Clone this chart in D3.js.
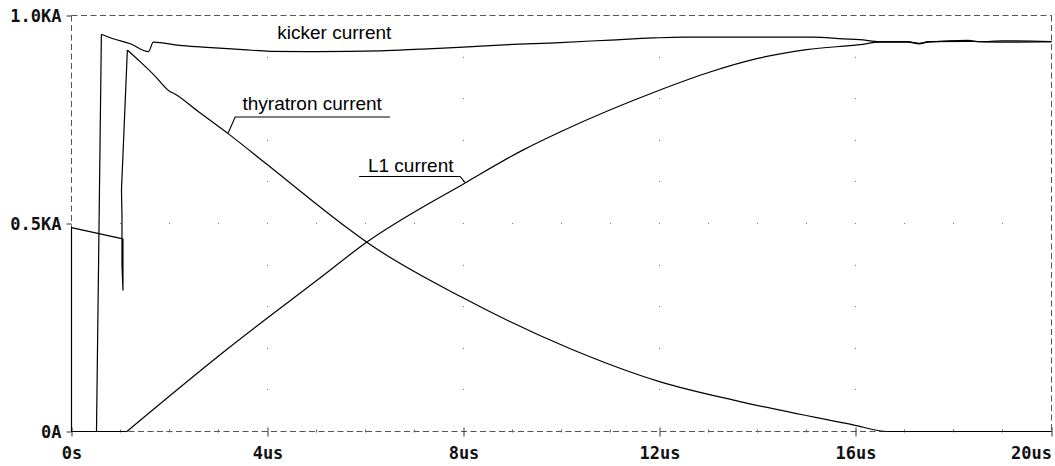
<!DOCTYPE html>
<html>
<head>
<meta charset="utf-8">
<script src="https://cdn.jsdelivr.net/npm/d3@7"></script>
<style>
  html, body { margin: 0; padding: 0; background: #fff; }
  svg { display: block; }
</style>
</head>
<body>
<svg id="chart" width="1055" height="466"></svg>
<script>
// Time axis in microseconds, current axis in kiloamperes
const xTicks = [0, 4, 8, 12, 16, 20];
const xTickLabels = ["0s", "4us", "8us", "12us", "16us", "20us"];
const yTicks = [0, 0.5, 1.0];
const yTickLabels = ["0A", "0.5KA", "1.0KA"];

// [time (us), current (KA)]
const kickerCurrent = [
  [0, 0], [0.51, 0], [0.61, 0.955], [0.85, 0.944], [1.2, 0.932], [1.57, 0.913],
  [1.67, 0.936], [2.2, 0.928], [2.68, 0.924], [3.5, 0.918], [4.05, 0.914],
  [5.0, 0.913], [6.3, 0.915], [7.1, 0.919], [8.0, 0.924], [8.74, 0.929],
  [9.97, 0.935], [11.0, 0.941], [11.87, 0.946], [12.48, 0.948], [15.13, 0.948],
  [15.75, 0.944], [16.09, 0.942], [16.5, 0.937], [17.07, 0.937], [17.3, 0.933],
  [17.48, 0.937], [18.3, 0.938], [18.54, 0.937], [19.0, 0.936], [19.22, 0.936],
  [20, 0.937]
];

// switch-on transient first, then the smooth discharge from the peak
const thyratronCurrent = [
  [0, 0], [0, 0.49], [1.05, 0.463], [1.05, 0.34], [1.03, 0.40], [1.03, 0.52],
  [1.02, 0.58], [1.14, 0.917], [1.4, 0.889], [1.7, 0.855], [2.0, 0.818],
  [2.1, 0.812], [2.6, 0.768], [3.23, 0.713], [4.0, 0.641], [5.54, 0.497],
  [6.05, 0.453], [7.93, 0.325], [10.18, 0.199], [12.0, 0.12], [13.64, 0.072],
  [15.95, 0.016], [16.65, 0], [20, 0]
];

const l1Current = [
  [0, 0], [1.13, 0], [3.2, 0.2], [5.07, 0.369], [6.0, 0.453],
  [8.07, 0.600], [9.22, 0.677], [9.97, 0.72], [12.01, 0.821], [13.0, 0.863],
  [14.05, 0.898], [15.0, 0.918], [16.09, 0.930], [16.5, 0.936], [17.07, 0.936],
  [17.3, 0.932], [17.48, 0.936], [18.3, 0.940], [18.54, 0.937], [19.0, 0.939],
  [19.22, 0.939], [20, 0.937]
];

// Points up to this index are joined with straight segments (switching edges)
const sharpUntil = [2, 7, 1];

// Trace names with anchor (text start, baseline) in data units
const seriesNames = ["kicker current", "thyratron current", "L1 current"];
const labelAnchors = [[4.2, 0.943], [3.49, 0.772], [6.05, 0.623]];
// leader lines: point on the trace, then along the underline
const leaders = [
  null,
  [[3.2, 0.718], [3.34, 0.756], [6.5, 0.756]],
  [[8.03, 0.599], [7.93, 0.613], [5.87, 0.613]]
];

const W = 1055, H = 466;
const svg = d3.select("#chart");
svg.append("rect").attr("width", W).attr("height", H).attr("fill", "#fff");

const x = d3.scaleLinear().domain([0, 20]).range([71.5, 1051.5]);
const y = d3.scaleLinear().domain([0, 1]).range([431.5, 15.5]);

const monoFont = "'DejaVu Sans Mono', monospace";
const sansFont = "'Liberation Sans', Arial, sans-serif";

// Dotted grid: every 0.1KA on the major time ticks, every 1us on the 0.5KA row
const grid = svg.append("g").attr("fill", "#777");
const gridPts = [];
xTicks.slice(1, -1).forEach(t => {
  for (let k = 1; k <= 9; k++) gridPts.push([t, k / 10]);
});
d3.range(1, 20).forEach(t => gridPts.push([t, 0.5]));
grid.selectAll("rect").data(gridPts).join("rect")
  .attr("x", d => Math.round(x(d[0]) - 0.5))
  .attr("y", d => Math.round(y(d[1]) - 0.5))
  .attr("width", 1).attr("height", 1);

// Dashed frame
const frame = svg.append("g")
  .attr("stroke", "#555").attr("stroke-width", 1)
  .attr("stroke-dasharray", "6,3.5").attr("fill", "none");
frame.append("line").attr("x1", x(0)).attr("x2", x(20)).attr("y1", y(1)).attr("y2", y(1));
frame.append("line").attr("x1", x(0)).attr("x2", x(20)).attr("y1", y(0)).attr("y2", y(0));
frame.append("line").attr("x1", x(0)).attr("x2", x(0)).attr("y1", y(1)).attr("y2", y(0));
frame.append("line").attr("x1", x(20)).attr("x2", x(20)).attr("y1", y(1)).attr("y2", y(0));

// Bottom axis: major and minor ticks
const xAxis = d3.axisBottom(x).tickValues(xTicks)
  .tickFormat((d, i) => xTickLabels[i]).tickSize(0).tickPadding(0);
const gx = svg.append("g").attr("transform", `translate(0,${y(0)})`).call(xAxis);
gx.select(".domain").remove();
gx.selectAll(".tick").append("line")
  .attr("y1", -4).attr("y2", 5).attr("stroke", "#333").attr("stroke-width", 1);
gx.selectAll(".tick text")
  .attr("y", 27.5).attr("dy", null)
  .attr("font-family", monoFont).attr("font-size", 17).attr("font-weight", "bold")
  .attr("fill", "#111")
  .attr("text-anchor", (d, i) => i === xTicks.length - 1 ? "end" : "middle");
svg.append("g").selectAll("line")
  .data(d3.range(1, 20).filter(t => t % 4 !== 0)).join("line")
  .attr("x1", d => x(d)).attr("x2", d => x(d))
  .attr("y1", y(0) - 2).attr("y2", y(0) + 1)
  .attr("stroke", "#666").attr("stroke-width", 1);

// Left axis
const yAxis = d3.axisLeft(y).tickValues(yTicks)
  .tickFormat((d, i) => yTickLabels[i]).tickSize(5).tickPadding(5);
const gy = svg.append("g").attr("transform", `translate(${x(0)},0)`).call(yAxis);
gy.select(".domain").remove();
gy.selectAll(".tick line").attr("stroke", "#333");
gy.selectAll(".tick text")
  .attr("dy", "0.36em")
  .attr("font-family", monoFont).attr("font-size", 17).attr("font-weight", "bold")
  .attr("fill", "#111");

// Traces: straight switching edges, then smooth monotone curves
const smooth = d3.line().x(d => x(d[0])).y(d => y(d[1])).curve(d3.curveMonotoneX);
const straight = d3.line().x(d => x(d[0])).y(d => y(d[1])).curve(d3.curveLinear);
const traces = [kickerCurrent, thyratronCurrent, l1Current];
const pieces = [];
traces.forEach((data, i) => {
  pieces.push({ data: data.slice(0, sharpUntil[i] + 1), gen: straight });
  pieces.push({ data: data.slice(sharpUntil[i]), gen: smooth });
});
svg.append("g").selectAll("path").data(pieces).join("path")
  .attr("d", p => p.gen(p.data))
  .attr("fill", "none").attr("stroke", "#000")
  .attr("stroke-width", 1.2).attr("stroke-linejoin", "round");

// Trace labels with leader lines
const lab = svg.append("g");
seriesNames.forEach((name, i) => {
  lab.append("text")
    .attr("x", x(labelAnchors[i][0])).attr("y", y(labelAnchors[i][1]))
    .attr("font-family", sansFont).attr("font-size", 19)
    .attr("fill", "#000").text(name);
  if (leaders[i]) {
    lab.append("path")
      .attr("d", straight(leaders[i]))
      .attr("fill", "none").attr("stroke", "#000").attr("stroke-width", 1.1);
  }
});
</script>
</body>
</html>
